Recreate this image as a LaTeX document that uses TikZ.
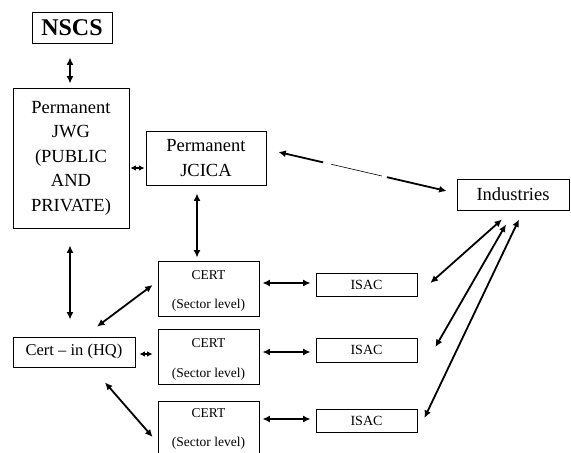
\documentclass[tikz,border=0pt]{standalone}
\usepackage{fontspec}
\setmainfont{Liberation Serif}
\usetikzlibrary{arrows.meta,calc}
\begin{document}
\begin{tikzpicture}[x=1pt,y=-1pt,
  box/.style={draw,line width=0.8pt,rectangle,inner sep=0pt,align=center},
  big/.style={font=\fontsize{18.5}{24.5}\selectfont},
  small/.style={font=\fontsize{13.5}{16}\selectfont,inner sep=0pt},
  certbox/.style={box,minimum width=101pt,minimum height=55pt},
  arr/.style={line width=1.8pt,{Latex[length=7.5pt,width=7pt]}-{Latex[length=7.5pt,width=7pt]}},
  sarr/.style={line width=1.8pt,{Latex[length=5.5pt,width=5.5pt]}-{Latex[length=5.5pt,width=5.5pt]}},
  larr/.style={line width=1.8pt,{Latex[length=7.5pt,width=7pt]}-},
  rarr/.style={line width=1.8pt,-{Latex[length=7.5pt,width=7pt]}}]
\clip (0,0) rectangle (571,453);
\useasboundingbox (0,0) rectangle (571,453);
\node[box,minimum width=80pt,minimum height=31pt,font=\fontsize{24}{28}\selectfont\bfseries] (nscs) at (72,27.5) {NSCS};
\node[box,big,minimum width=116pt,minimum height=140pt] (jwg) at (71,158) {Permanent\\JWG\\(PUBLIC\\AND\\PRIVATE)};
\node[box,big,minimum width=120pt,minimum height=54pt] (jcica) at (206,158) {Permanent\\JCICA};
\node[box,big,minimum width=112pt,minimum height=31pt] (ind) at (513,194.5) {Industries};
\node[box,minimum width=122pt,minimum height=30pt,font=\fontsize{16.5}{20}\selectfont] (certin) at (74,352) {Cert -- in (HQ)};
\node[certbox] (c1) at (208.5,288.5) {};
\node[certbox] (c2) at (208.5,356.5) {};
\node[certbox] (c3) at (208.5,428.5) {};
\node[small] (c1a) at ([yshift=-14pt]c1.north) {CERT};
\node[small] (c1b) at ([yshift=-45pt]c1.north) {(Sector level)};
\node[small] (c2a) at ([yshift=-14pt]c2.north) {CERT};
\node[small] (c2b) at ([yshift=-46pt]c2.north) {(Sector level)};
\node[small] (c3a) at ([yshift=-12pt]c3.north) {CERT};
\node[small] (c3b) at ([yshift=-43pt]c3.north) {(Sector level)};
\node[box,minimum width=101pt,minimum height=23pt,font=\fontsize{14}{16}\selectfont] (i1) at (366.5,284.5) {ISAC};
\node[box,minimum width=101pt,minimum height=24pt,font=\fontsize{14}{16}\selectfont] (i2) at (366.5,350) {ISAC};
\node[box,minimum width=101pt,minimum height=23pt,font=\fontsize{14}{16}\selectfont] (i3) at (366.5,420.5) {ISAC};
% connectors
\draw[arr] ([xshift=-2pt,yshift=-14pt]nscs.south) -- ([xshift=-1pt,yshift=4pt]jwg.north);
\draw[sarr] ([xshift=1pt,yshift=-10pt]jwg.east) -- ([xshift=-1pt,yshift=-10pt]jcica.west);
\draw[arr] ([xshift=-9pt,yshift=-8pt]jcica.south) -- ([xshift=-11.5pt,yshift=3pt]c1.north);
\draw[arr] ([xshift=-1pt,yshift=-17pt]jwg.south) -- ([xshift=-4pt,yshift=17pt]certin.north);
\draw[arr] ([xshift=23pt,yshift=10pt]certin.north) -- ([xshift=-5pt,yshift=3.5pt]c1.west);
\draw[sarr] ([xshift=4pt,yshift=-2pt]certin.east) -- ([xshift=-5pt,yshift=2.5pt]c2.west);
\draw[arr] ([xshift=31pt,yshift=-15pt]certin.south) -- ([xshift=-5pt,yshift=-8.5pt]c3.west);
\draw[arr] ([xshift=3pt,yshift=5.5pt]c1.east) -- ([xshift=-5pt,yshift=1.5pt]i1.west);
\draw[arr] ([xshift=3pt,yshift=4.5pt]c2.east) -- ([xshift=-5pt,yshift=-2pt]i2.west);
\draw[arr] ([xshift=3pt,yshift=9.5pt]c3.east) -- ([xshift=-5pt,yshift=1.5pt]i3.west);
\draw[arr] ([xshift=-11pt,yshift=-9pt]ind.south) -- ([xshift=13pt,yshift=1.5pt]i1.east);
\draw[arr] ([xshift=-7pt,yshift=-14pt]ind.south) -- ([xshift=18pt,yshift=3pt]i2.east);
\draw[arr] ([xshift=6pt,yshift=-9pt]ind.south) -- ([xshift=7pt,yshift=2.5pt]i3.east);
% dashed link JCICA -- Industries
\coordinate (da) at ([xshift=12pt,yshift=6pt]jcica.east);
\coordinate (db) at ([xshift=-10pt,yshift=3.5pt]ind.west);
\draw[larr] (da) -- ($(da)!0.266!(db)$);
\draw[line width=0.6pt] ($(da)!0.314!(db)$) -- ($(da)!0.615!(db)$);
\draw[rarr] ($(da)!0.645!(db)$) -- (db);
\end{tikzpicture}
\end{document}
